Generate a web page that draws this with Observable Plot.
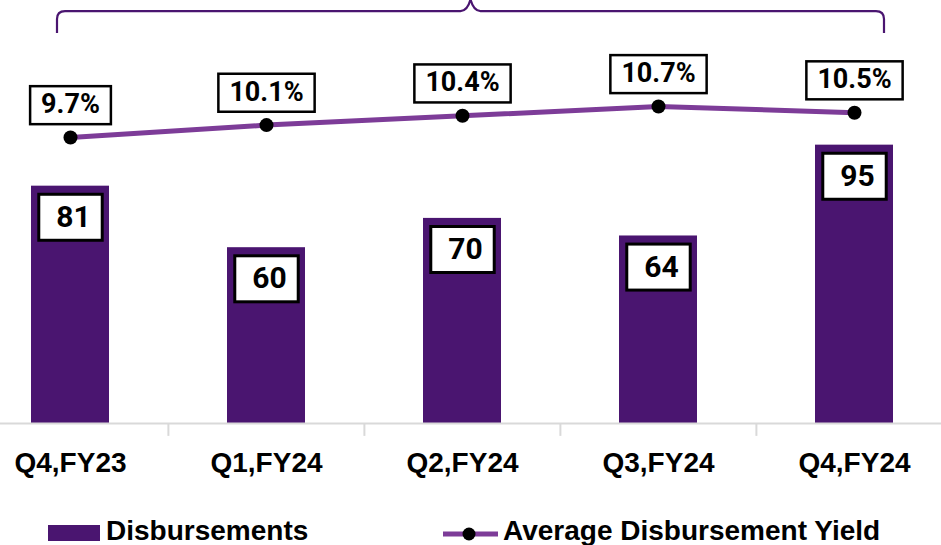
<!DOCTYPE html>
<html><head><meta charset="utf-8">
<script src="https://cdn.jsdelivr.net/npm/d3@7"></script>
<script src="https://cdn.jsdelivr.net/npm/@observablehq/plot@0.6"></script>
<style>
body{margin:0;background:#fff;}
#wrap{position:relative;width:941px;height:545px;overflow:hidden;background:#fff;}
#legend{position:absolute;left:0;top:500px;width:941px;height:45px;font-family:"Liberation Sans",Arial,sans-serif;font-weight:bold;font-size:28px;color:#000;}
#legend span{position:absolute;top:17px;line-height:28px;white-space:nowrap;}
</style></head><body>
<div id="wrap"><div id="chart"></div><div id="legend"></div></div>
<script>
const quarters = ["Q4,FY23","Q1,FY24","Q2,FY24","Q3,FY24","Q4,FY24"];
const disbursements = [81, 60, 70, 64, 95];
const yields = [9.7, 10.1, 10.4, 10.7, 10.5];
const seriesNames = ["Disbursements", "Average Disbursement Yield"];

const barColor = "#4A1570";
const lineColor = "#7D3C98";
const axisGray = "#D9D9D9";

const data = quarters.map((q, i) => ({q, v: disbursements[i], yld: yields[i]}));

// secondary (yield) axis mapped onto primary value space
const yieldToPrimary = d3.scaleLinear().domain([9.7, 10.7]).range([97.6, 108.2]);

const xRange = [-28, 953];
const step = (xRange[1] - xRange[0]) / quarters.length;

const plot = Plot.plot({
  width: 941,
  height: 500,
  marginLeft: 0,
  marginRight: 0,
  marginTop: 0,
  marginBottom: 77,
  style: {background: "transparent", fontFamily: "Liberation Sans, Arial, sans-serif"},
  x: {domain: quarters, range: xRange, paddingInner: 0.6, paddingOuter: 0.3, label: null, tickSize: 0, tickPadding: 29},
  y: {domain: [0, 100], range: [423, 130], axis: null},
  marks: [
    Plot.barY(data, {x: "q", y: "v", fill: barColor}),
    Plot.ruleY([0], {stroke: axisGray, strokeWidth: 2}),
    Plot.ruleX(quarters.slice(1), {x: d => d, dx: -step / 2, y1: 0, y2: -4.4, stroke: axisGray, strokeWidth: 2}),
    Plot.line(data, {x: "q", y: d => yieldToPrimary(d.yld), stroke: lineColor, strokeWidth: 5}),
    Plot.dot(data, {x: "q", y: d => yieldToPrimary(d.yld), r: 7, fill: "#000"}),
    Plot.text(data, {x: "q", y: "v", text: d => String(d.v), dy: 31, dx: 3, fontFamily: "Roboto", fontSize: 30, fontWeight: "bold", fill: "#000"}),
    Plot.text(data, {x: "q", y: d => yieldToPrimary(d.yld), text: d => d.yld.toFixed(1) + "%", dy: -33, fontFamily: "Roboto", fontSize: 27, fontWeight: "bold", fill: "#000"})
  ]
});

d3.select(plot).selectAll("g[aria-label='x-axis tick label'], g[aria-label='x-axis']")
  .attr("font-size", 28).attr("font-weight", "bold");
d3.select(plot).selectAll("g[aria-label='x-axis tick label'] text, g[aria-label='x-axis'] text")
  .attr("fill", "#000");

document.getElementById("chart").appendChild(plot);

const textGroups = Array.from(plot.querySelectorAll("g[aria-label='text']"));

function boxify(group, padX, h, sw, shift) {
  if (!group) return;
  Array.from(group.querySelectorAll("text")).forEach(function(el) {
    const b = el.getBBox();
    const cx = b.x + b.width / 2 - shift;
    const cy = b.y + b.height / 2 + 1;
    const w = b.width + 2 * padX;
    const r = document.createElementNS("http://www.w3.org/2000/svg", "rect");
    r.setAttribute("x", cx - w / 2);
    r.setAttribute("y", cy - h / 2);
    r.setAttribute("width", w);
    r.setAttribute("height", h);
    r.setAttribute("fill", "#fff");
    r.setAttribute("stroke", "#000");
    r.setAttribute("stroke-width", sw);
    const t = el.getAttribute("transform");
    if (t) r.setAttribute("transform", t);
    el.parentNode.insertBefore(r, el);
  });
}
boxify(textGroups[0], 14.5, 46, 3, 3);
boxify(textGroups[1], 11, 38, 2.5, 0);

// brace above the chart
const xs = plot.scale("x"), ys = plot.scale("y");
const c0 = xs.apply(quarters[0]) + xs.bandwidth / 2;
const c1 = xs.apply(quarters[quarters.length - 1]) + xs.bandwidth / 2;
const left = c0 - 13, right = c1 + 30, mid = (left + right) / 2;
const yEnd = ys.apply(133.1), yTop = ys.apply(140.6), yPeak = ys.apply(144.6);
const path = `M${left},${yEnd} L${left},${yTop + 8} Q${left},${yTop} ${left + 8},${yTop} L${mid - 10},${yTop} Q${mid - 3},${yTop} ${mid},${yPeak} Q${mid + 3},${yTop} ${mid + 10},${yTop} L${right - 8},${yTop} Q${right},${yTop} ${right},${yTop + 8} L${right},${yEnd}`;
d3.select(plot).append("path").attr("d", path).attr("fill", "none").attr("stroke", barColor).attr("stroke-width", 2.2);

// legend
const legend = d3.select("#legend");
legend.append("div").style("position", "absolute").style("left", "48px").style("top", "25px")
  .style("width", "52px").style("height", "16px").style("background", barColor);
legend.append("span").style("left", "106px").text(seriesNames[0]);
const ls = legend.append("svg").attr("width", 62).attr("height", 20)
  .style("position", "absolute").style("left", "440px").style("top", "24px");
ls.append("line").attr("x1", 3).attr("x2", 58).attr("y1", 10).attr("y2", 10).attr("stroke", lineColor).attr("stroke-width", 5);
ls.append("circle").attr("cx", 29).attr("cy", 10).attr("r", 6.5).attr("fill", "#000");
legend.append("span").style("left", "503px").text(seriesNames[1]);
</script>
</body></html>
